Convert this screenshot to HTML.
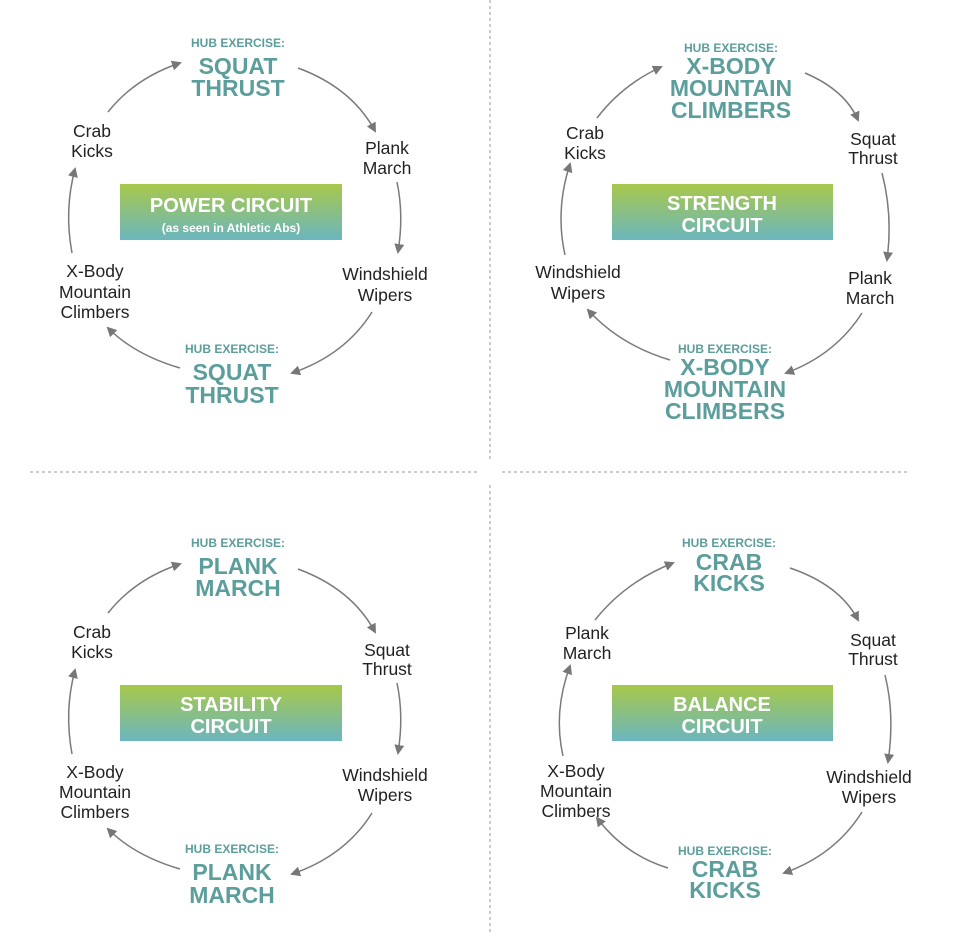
<!DOCTYPE html>
<html><head><meta charset="utf-8"><style>
html,body{margin:0;padding:0;background:#fff;}
svg{display:block;}
.h{font-family:"Liberation Sans",sans-serif;font-weight:bold;fill:#5b9e9c;text-anchor:middle;}
.hs{font-size:12px;}
.hb{font-size:23px;}
.l{font-family:"Liberation Sans",sans-serif;font-size:17.5px;fill:#222;text-anchor:middle;}
.bx{font-family:"Liberation Sans",sans-serif;font-weight:bold;fill:#fff;text-anchor:middle;font-size:20px;}
.a{fill:none;stroke:#7a7a7a;stroke-width:1.5;marker-end:url(#ar);}
.d{stroke:#999;stroke-width:1;stroke-dasharray:3,3;}
</style></head><body>
<svg width="980" height="949" viewBox="0 0 980 949" xmlns="http://www.w3.org/2000/svg">
<defs>
<marker id="ar" markerWidth="10" markerHeight="10" refX="8" refY="5" orient="auto" markerUnits="userSpaceOnUse">
<path d="M0,0 L10,5 L0,10 z" fill="#777"/></marker>
<linearGradient id="g" x1="0" y1="0" x2="0" y2="1"><stop offset="0" stop-color="#a8c84a"/><stop offset="1" stop-color="#6bb6bf"/></linearGradient>
</defs>
<line class="d" x1="490" y1="0" x2="490" y2="462"/>
<line class="d" x1="490" y1="485" x2="490" y2="935"/>
<line class="d" x1="30" y1="472" x2="478" y2="472"/>
<line class="d" x1="502" y1="472" x2="908" y2="472"/>

<!-- Panel 1 -->
<g>
<rect x="120" y="184" width="222" height="56" fill="url(#g)"/>
<text class="bx" x="231" y="212">POWER CIRCUIT</text>
<text class="bx" x="231" y="232" style="font-size:12px">(as seen in Athletic Abs)</text>
<text class="h hs" x="238" y="47">HUB EXERCISE:</text>
<text class="h hb" x="238" y="74">SQUAT</text>
<text class="h hb" x="238" y="96">THRUST</text>
<text class="h hs" x="232" y="353">HUB EXERCISE:</text>
<text class="h hb" x="232" y="380">SQUAT</text>
<text class="h hb" x="232" y="403">THRUST</text>
<text class="l" x="92" y="137">Crab</text><text class="l" x="92" y="157">Kicks</text>
<text class="l" x="387" y="154">Plank</text><text class="l" x="387" y="174">March</text>
<text class="l" x="385" y="280">Windshield</text><text class="l" x="385" y="301">Wipers</text>
<text class="l" x="95" y="277">X-Body</text><text class="l" x="95" y="298">Mountain</text><text class="l" x="95" y="318">Climbers</text>
<path class="a" d="M108,112 Q135,78 180,63"/>
<path class="a" d="M298,68 Q352,88 375,131"/>
<path class="a" d="M397,182 Q404,215 398,252"/>
<path class="a" d="M372,312 Q345,355 292,373"/>
<path class="a" d="M180,368 Q135,355 108,328"/>
<path class="a" d="M72,253 Q64,210 75,169"/>
</g>

<!-- Panel 2 -->
<g>
<rect x="612" y="184" width="221" height="56" fill="url(#g)"/>
<text class="bx" x="722" y="210">STRENGTH</text>
<text class="bx" x="722" y="232">CIRCUIT</text>
<text class="h hs" x="731" y="52">HUB EXERCISE:</text>
<text class="h hb" x="731" y="74">X-BODY</text>
<text class="h hb" x="731" y="96">MOUNTAIN</text>
<text class="h hb" x="731" y="118">CLIMBERS</text>
<text class="h hs" x="725" y="353">HUB EXERCISE:</text>
<text class="h hb" x="725" y="375">X-BODY</text>
<text class="h hb" x="725" y="397">MOUNTAIN</text>
<text class="h hb" x="725" y="419">CLIMBERS</text>
<text class="l" x="585" y="139">Crab</text><text class="l" x="585" y="159">Kicks</text>
<text class="l" x="873" y="145">Squat</text><text class="l" x="873" y="164">Thrust</text>
<text class="l" x="870" y="284">Plank</text><text class="l" x="870" y="304">March</text>
<text class="l" x="578" y="278">Windshield</text><text class="l" x="578" y="299">Wipers</text>
<path class="a" d="M597,118 Q622,85 661,67"/>
<path class="a" d="M805,73 Q845,90 858,120"/>
<path class="a" d="M882,173 Q893,215 887,260"/>
<path class="a" d="M862,313 Q835,355 786,373"/>
<path class="a" d="M670,360 Q620,345 588,310"/>
<path class="a" d="M565,255 Q555,210 570,164"/>
</g>

<!-- Panel 3 -->
<g transform="translate(0,501)">
<rect x="120" y="184" width="222" height="56" fill="url(#g)"/>
<text class="bx" x="231" y="210">STABILITY</text>
<text class="bx" x="231" y="232">CIRCUIT</text>
<text class="h hs" x="238" y="46">HUB EXERCISE:</text>
<text class="h hb" x="238" y="73">PLANK</text>
<text class="h hb" x="238" y="95">MARCH</text>
<text class="h hs" x="232" y="352">HUB EXERCISE:</text>
<text class="h hb" x="232" y="379">PLANK</text>
<text class="h hb" x="232" y="402">MARCH</text>
<text class="l" x="92" y="137">Crab</text><text class="l" x="92" y="157">Kicks</text>
<text class="l" x="387" y="155">Squat</text><text class="l" x="387" y="174">Thrust</text>
<text class="l" x="385" y="280">Windshield</text><text class="l" x="385" y="300">Wipers</text>
<text class="l" x="95" y="277">X-Body</text><text class="l" x="95" y="297">Mountain</text><text class="l" x="95" y="317">Climbers</text>
<path class="a" d="M108,112 Q135,78 180,63"/>
<path class="a" d="M298,68 Q352,88 375,131"/>
<path class="a" d="M397,182 Q404,215 398,252"/>
<path class="a" d="M372,312 Q345,355 292,373"/>
<path class="a" d="M180,368 Q135,355 108,328"/>
<path class="a" d="M72,253 Q64,210 75,169"/>
</g>

<!-- Panel 4 -->
<g>
<rect x="612" y="685" width="221" height="56" fill="url(#g)"/>
<text class="bx" x="722" y="711">BALANCE</text>
<text class="bx" x="722" y="733">CIRCUIT</text>
<text class="h hs" x="729" y="547">HUB EXERCISE:</text>
<text class="h hb" x="729" y="570">CRAB</text>
<text class="h hb" x="729" y="591">KICKS</text>
<text class="h hs" x="725" y="855">HUB EXERCISE:</text>
<text class="h hb" x="725" y="877">CRAB</text>
<text class="h hb" x="725" y="898">KICKS</text>
<text class="l" x="587" y="639">Plank</text><text class="l" x="587" y="659">March</text>
<text class="l" x="873" y="646">Squat</text><text class="l" x="873" y="665">Thrust</text>
<text class="l" x="869" y="783">Windshield</text><text class="l" x="869" y="803">Wipers</text>
<text class="l" x="576" y="777">X-Body</text><text class="l" x="576" y="797">Mountain</text><text class="l" x="576" y="817">Climbers</text>
<path class="a" d="M595,620 Q625,582 673,563"/>
<path class="a" d="M790,568 Q840,585 858,620"/>
<path class="a" d="M885,675 Q895,715 888,762"/>
<path class="a" d="M862,812 Q835,855 784,873"/>
<path class="a" d="M668,868 Q625,855 597,818"/>
<path class="a" d="M563,756 Q553,712 570,666"/>
</g>
</svg>
</body></html>
